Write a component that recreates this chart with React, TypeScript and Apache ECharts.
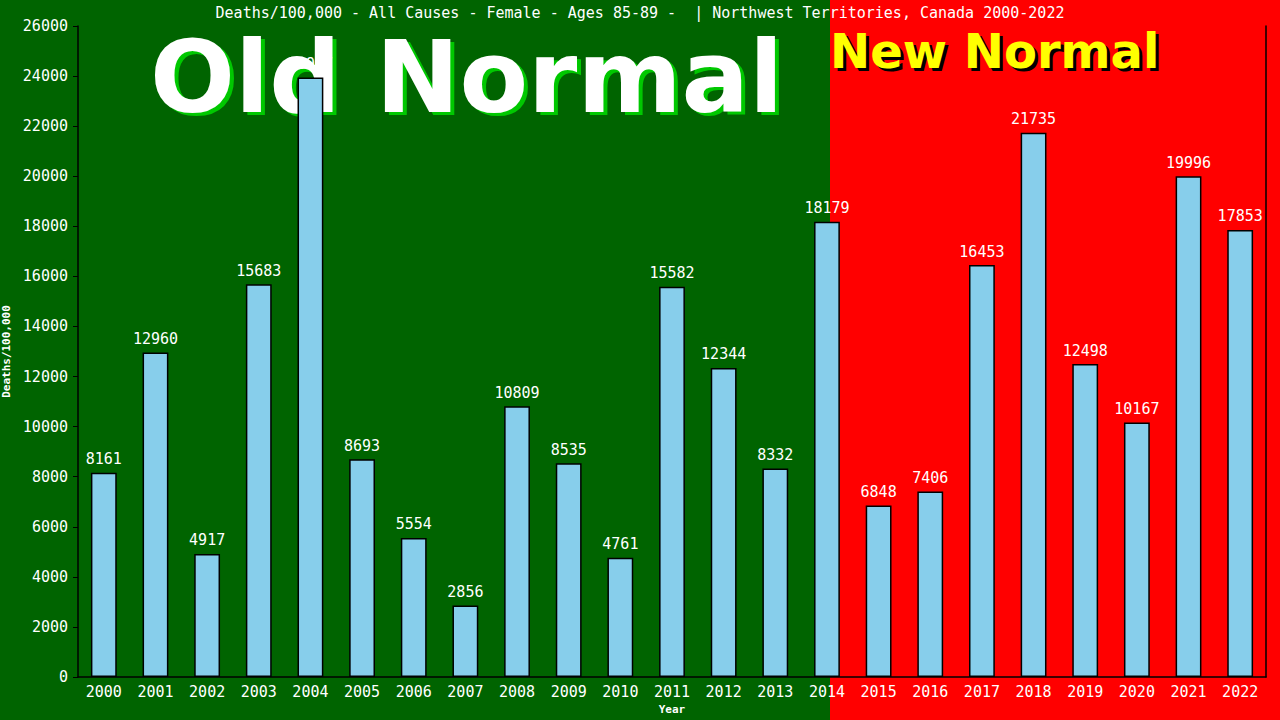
import { useEffect, useRef } from "react";
import * as echarts from "echarts";

const years = [
  "2000", "2001", "2002", "2003", "2004", "2005", "2006", "2007", "2008", "2009", "2010", "2011",
  "2012", "2013", "2014", "2015", "2016", "2017", "2018", "2019", "2020", "2021", "2022",
];
const deathRates = [
  8161, 12960, 4917, 15683, 23947, 8693, 5554, 2856, 10809, 8535, 4761, 15582,
  12344, 8332, 18179, 6848, 7406, 16453, 21735, 12498, 10167, 19996, 17853,
];
const titleText =
  "Deaths/100,000 - All Causes - Female - Ages 85-89 -  | Northwest Territories, Canada 2000-2022";

const MONO = "'DejaVu Sans Mono', 'Liberation Mono', monospace";
const BOLD_SANS = "'DejaVu Sans', Verdana, sans-serif";

function buildOption(): echarts.EChartsOption {
  return {
    animation: false,
    backgroundColor: "#ff0000",
    title: {
      text: titleText,
      left: "center",
      top: 0,
      textStyle: { color: "#ffffff", fontFamily: MONO, fontSize: 15, fontWeight: "normal" },
    },
    graphic: [
      // green "old normal" half of the background
      { type: "rect", z: -10, shape: { x: 0, y: 0, width: 830, height: 720 }, style: { fill: "#006400" } },
      {
        type: "text", z: -5, x: 154, y: 30,
        style: { text: "Old Normal", fill: "#00c800", font: `bold 100px ${BOLD_SANS}`, verticalAlign: "top" },
      },
      {
        type: "text", z: -4, x: 150, y: 27,
        style: { text: "Old Normal", fill: "#ffffff", font: `bold 100px ${BOLD_SANS}`, verticalAlign: "top" },
      },
      {
        type: "text", z: -5, x: 833, y: 30,
        style: { text: "New Normal", fill: "#000000", font: `bold 48px ${BOLD_SANS}`, verticalAlign: "top" },
      },
      {
        type: "text", z: -4, x: 830, y: 27,
        style: { text: "New Normal", fill: "#ffff00", font: `bold 48px ${BOLD_SANS}`, verticalAlign: "top" },
      },
    ],
    grid: { left: 78, right: 14, top: 26, bottom: 43, outerBoundsMode: "none", containLabel: false },
    xAxis: {
      type: "category",
      data: years,
      name: "Year",
      nameLocation: "middle",
      nameGap: 27,
      nameTextStyle: { color: "#ffffff", fontFamily: MONO, fontSize: 11, fontWeight: "bold" },
      axisLine: { lineStyle: { color: "#000000", width: 1.5 } },
      axisTick: { show: false },
      axisLabel: { color: "#ffffff", fontFamily: MONO, fontSize: 15, margin: 7 },
    },
    yAxis: [
      {
        type: "value",
        min: 0,
        max: 26000,
        interval: 2000,
        name: "Deaths/100,000",
        nameLocation: "middle",
        nameGap: 60,
        nameTextStyle: { color: "#ffffff", fontFamily: MONO, fontSize: 11, fontWeight: "bold" },
        axisLine: { show: true, lineStyle: { color: "#000000", width: 1.5 } },
        axisTick: { show: true, length: 5, lineStyle: { color: "#000000" } },
        axisLabel: { color: "#ffffff", fontFamily: MONO, fontSize: 15, margin: 10, formatter: (v: number) => String(v) },
        splitLine: { show: false },
      },
      {
        type: "value",
        min: 0,
        max: 26000,
        interval: 2000,
        position: "right",
        axisLine: { show: true, lineStyle: { color: "#000000", width: 1.5 } },
        axisTick: { show: false },
        axisLabel: { show: false },
        splitLine: { show: false },
      },
    ],
    series: [
      {
        type: "bar",
        data: deathRates,
        barWidth: "50%",
        itemStyle: { color: "#87ceeb", borderColor: "#000000", borderWidth: 1.5 },
        label: {
          show: true,
          position: "top",
          distance: 6,
          color: "#ffffff",
          fontFamily: MONO,
          fontSize: 15,
        },
      },
    ],
  };
}

export default function App() {
  const chartRef = useRef<HTMLDivElement | null>(null);

  useEffect(() => {
    if (!chartRef.current) return;
    const instance = echarts.init(chartRef.current, undefined, { renderer: "svg" });
    instance.setOption(buildOption());
    return () => {
      instance.dispose();
    };
  }, []);

  return (
    <div
      ref={chartRef}
      style={{ position: "fixed", left: 0, top: 0, width: 1280, height: 720 }}
    />
  );
}
